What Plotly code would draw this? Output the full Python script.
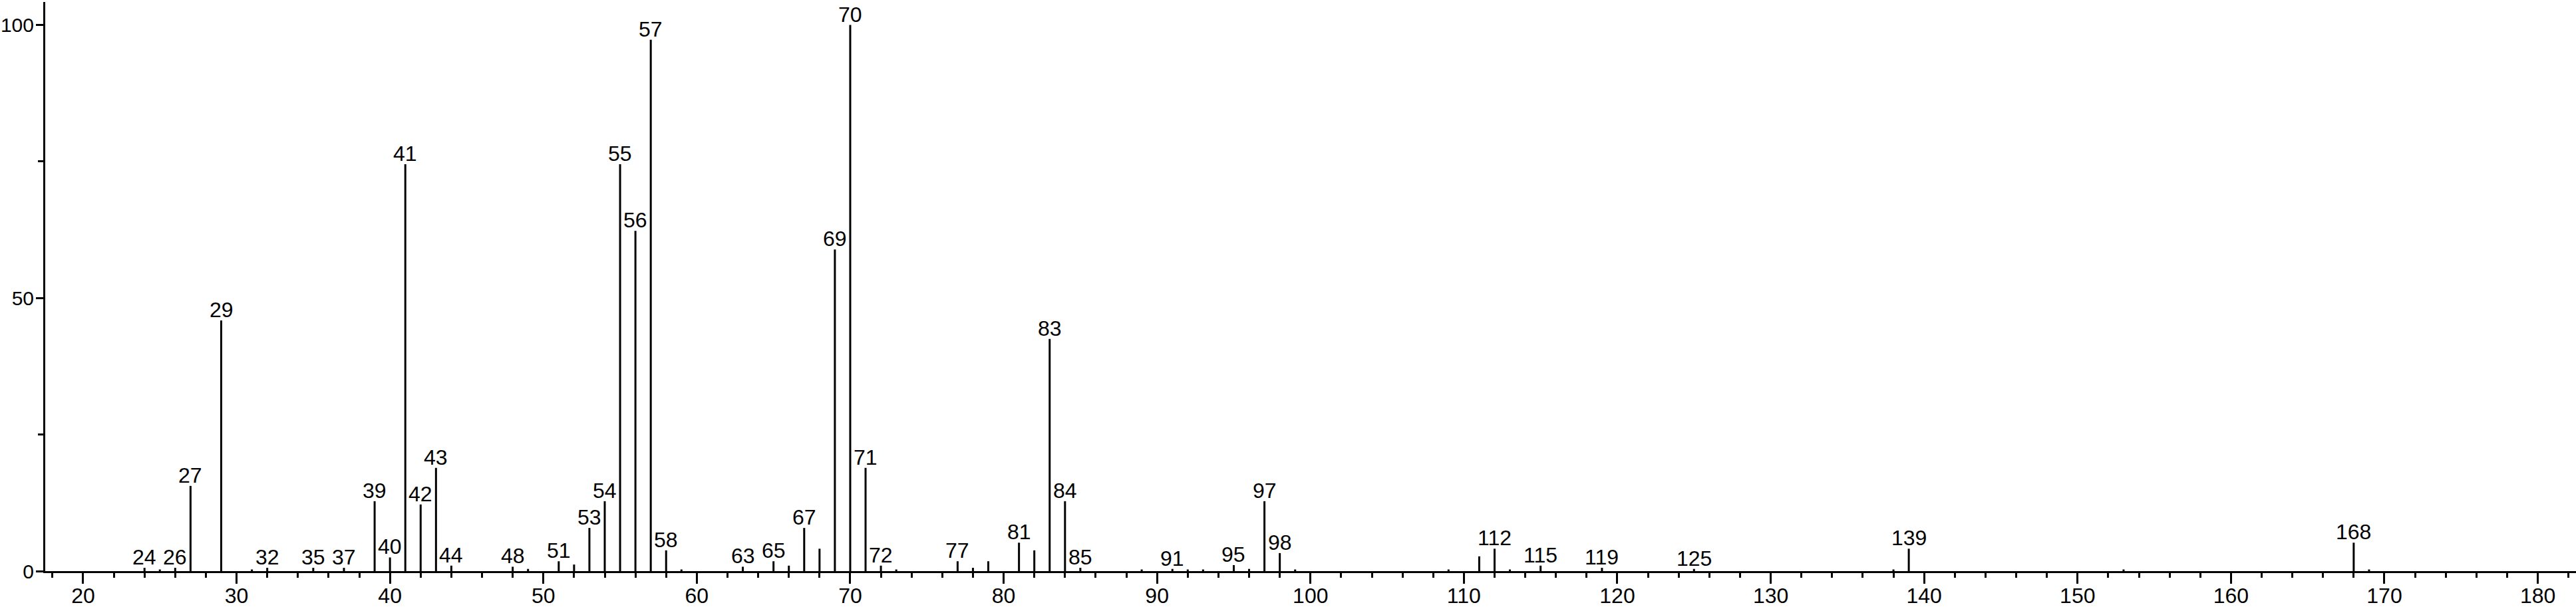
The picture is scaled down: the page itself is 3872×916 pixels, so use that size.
import plotly.graph_objects as go

# m/z values and relative intensities
mz = [24, 25, 26, 27, 29, 31, 32, 35, 37, 39, 40, 41, 42, 43, 44, 48, 49, 51, 52, 53, 54, 55, 56, 57, 58,
      59, 63, 65, 66, 67, 68, 69, 70, 71, 72, 73, 77, 78, 79, 81, 82, 83, 84, 85, 89, 91, 92, 93, 95, 96,
      97, 98, 99, 109, 111, 112, 113, 115, 119, 125, 138, 139, 153, 168, 169]
intensity = [0.6, 0.3, 0.6, 15.6, 45.9, 0.3, 0.6, 0.6, 0.6, 12.8, 2.5, 74.5, 12.2, 18.9, 1.0, 0.8, 0.4, 1.8, 1.2, 7.9, 12.8, 74.5, 62.3, 97.3, 3.8,
             0.3, 0.8, 1.8, 1.0, 7.9, 4.1, 58.9, 100.0, 18.9, 1.0, 0.3, 1.8, 0.6, 1.8, 5.2, 3.8, 42.5, 12.8, 0.6, 0.3, 0.4, 0.3, 0.3, 1.1, 0.4,
             12.8, 3.3, 0.3, 0.3, 2.7, 4.1, 0.3, 1.0, 0.6, 0.4, 0.3, 4.1, 0.3, 5.2, 0.3]
labeled = [24, 26, 27, 29, 32, 35, 37, 39, 40, 41, 42, 43, 44, 48, 51, 53, 54, 55, 56, 57, 58, 63, 65, 67, 69,
           70, 71, 72, 77, 81, 83, 84, 85, 91, 95, 97, 98, 112, 115, 119, 125, 139, 168]

x_major = [20, 30, 40, 50, 60, 70, 80, 90, 100, 110, 120, 130, 140, 150, 160, 170, 180]
y_ticks = [0, 50, 100]

FONT = "Liberation Sans, Arial, sans-serif"
FS = 32

xs, ys = [], []
for m, v in zip(mz, intensity):
    xs += [m, m, None]
    ys += [0, v, None]

fig = go.Figure()
fig.add_trace(go.Scatter(x=xs, y=ys, mode="lines", line=dict(color="black", width=3),
                         hoverinfo="skip", showlegend=False))

lookup = dict(zip(mz, intensity))
for m in labeled:
    fig.add_annotation(x=m, y=lookup[m], text=str(m), showarrow=False,
                       xanchor="center", yanchor="bottom", yshift=-4,
                       font=dict(family=FONT, size=FS, color="black"))

fig.update_layout(
    width=3872, height=916,
    margin=dict(l=68, r=0, t=3, b=57),
    plot_bgcolor="white", paper_bgcolor="white",
    font=dict(family=FONT, size=FS, color="black"),
    showlegend=False,
)
fig.update_xaxes(range=[17.53, 182.49], tickvals=x_major, ticktext=[str(v) for v in x_major],
                 automargin=False,
                 showgrid=False, zeroline=False, showline=True, linecolor="black", linewidth=3,
                 ticks="outside", ticklen=16, tickwidth=3, tickcolor="black",
                 ticklabelstandoff=-9,
                 minor=dict(dtick=2, tick0=0, ticks="outside", ticklen=7, tickwidth=3, tickcolor="black"),
                 tickfont=dict(family=FONT, size=FS, color="black"))
fig.update_yaxes(range=[0, 104.2], tickvals=y_ticks, ticktext=[str(v) for v in y_ticks],
                 automargin=False,
                 showgrid=False, zeroline=False, showline=True, linecolor="black", linewidth=3,
                 ticks="outside", ticklen=11, tickwidth=3, tickcolor="black",
                 ticklabelstandoff=-3,
                 minor=dict(dtick=25, tick0=0, ticks="outside", ticklen=8, tickwidth=3, tickcolor="black"),
                 tickfont=dict(family=FONT, size=30, color="black"))

fig.write_html("out.html", config={"displayModeBar": False},
               post_script="document.body.style.margin='0';document.body.style.overflow='hidden';")
